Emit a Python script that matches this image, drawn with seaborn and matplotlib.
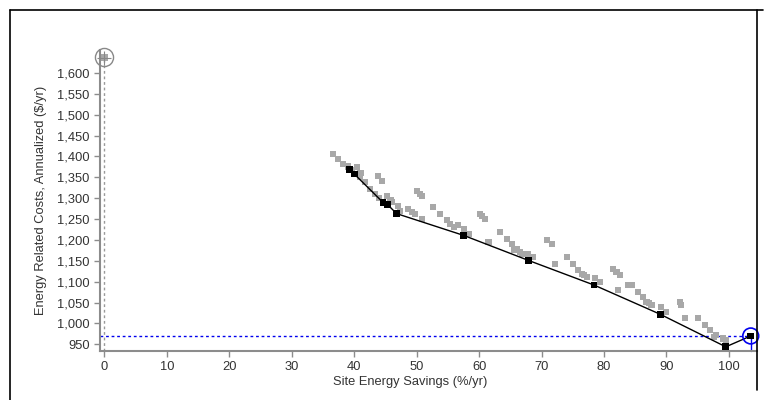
import matplotlib
matplotlib.use("Agg")
import matplotlib.pyplot as plt
import seaborn as sns
import pandas as pd
from matplotlib.ticker import FuncFormatter
from matplotlib.lines import Line2D

# ---- data ----
# all evaluated design points (grey)
grey_x = [36.6, 37.4, 38.2, 39.0, 39.6, 40.4, 41.0, 41.7, 42.5, 43.3, 43.8, 44.4,
          45.2, 46.0, 47.0, 48.6, 49.2, 50.0, 50.5, 50.8, 50.8, 52.6, 53.7, 54.8,
          55.3, 55.9, 57.5, 58.3, 60.1, 60.4, 60.9, 61.5, 63.3, 64.4, 65.2, 66.0,
          66.5, 66.8, 67.9, 68.7, 70.8, 71.6, 72.1, 74.0, 75.1, 75.9, 76.4, 77.2,
          78.5, 79.3, 81.5, 82.0, 82.3, 82.5, 83.9, 84.4, 85.5, 86.3, 86.8, 87.6,
          89.2, 90.0, 92.2, 92.4, 93.0, 95.1, 96.2, 97.0, 98.0, 99.1, 99.6, 45.8,
          47.4, 40.9, 44.0, 49.8, 56.6, 65.6, 76.8, 87.2, 97.6, 0.0]
grey_y = [1406, 1394, 1382, 1376, 1368, 1374, 1360, 1338, 1322, 1310, 1354, 1342,
          1306, 1290, 1282, 1275, 1266, 1318, 1310, 1306, 1251, 1278, 1263, 1247,
          1239, 1231, 1227, 1215, 1263, 1258, 1251, 1195, 1219, 1203, 1191, 1179,
          1171, 1167, 1167, 1159, 1199, 1191, 1143, 1159, 1143, 1127, 1119, 1111,
          1108, 1099, 1131, 1123, 1080, 1115, 1091, 1092, 1076, 1064, 1052, 1044,
          1040, 1028, 1052, 1044, 1012, 1012, 996, 984, 972, 964, 960, 1296,
          1270, 1350, 1300, 1262, 1235, 1175, 1115, 1048, 968, 1637]

# optimal path (black)
opt_x = [39.3, 40.0, 44.6, 45.3, 46.8, 57.5, 67.9, 78.4, 89.0, 99.5, 103.5]
opt_y = [1368, 1358, 1290, 1285, 1263, 1211, 1151, 1092, 1022, 944, 970]

# reference point and selected point
ref_x, ref_y = 0.0, 1637
sel_x, sel_y = 103.5, 970

x_ticks = list(range(0, 101, 10))
y_ticks = list(range(950, 1601, 50))

x_label = "Site Energy Savings (%/yr)"
y_label = "Energy Related Costs, Annualized ($/yr)"

# ---- style ----
sns.set_style("white")
plt.rcParams['font.family'] = ['Liberation Sans', 'DejaVu Sans']

fig = plt.figure(figsize=(7.64, 4.0), dpi=100)
ax = fig.add_axes([100/764, 1-351/400, 657/764, 301/400])

grey_df = pd.DataFrame({"x": grey_x, "y": grey_y})
opt_df = pd.DataFrame({"x": opt_x, "y": opt_y})

GREY = "#a8a8a8"
sns.scatterplot(data=grey_df, x="x", y="y", ax=ax, marker="s", s=19,
                color=GREY, edgecolor="none", linewidth=0, zorder=2, clip_on=False)
sns.lineplot(data=opt_df, x="x", y="y", ax=ax, sort=False, color="black",
             linewidth=1.0, estimator=None, zorder=3)
sns.scatterplot(data=opt_df, x="x", y="y", ax=ax, marker="s", s=24,
                color="black", edgecolor="none", linewidth=0, zorder=4, clip_on=False)

ymin, ymax = 934, 1655
xmin, xmax = -0.72, 104.5
ax.set_xlim(xmin, xmax)
ax.set_ylim(ymin, ymax)

# reference point decorations
ax.plot([ref_x, ref_x], [ymin, ref_y], color="#999999", linestyle=(0, (2, 2)),
        linewidth=1.0, zorder=1)
ax.scatter([ref_x], [ref_y], s=170, facecolor="none", edgecolor="#888888",
           linewidth=1.0, zorder=5, clip_on=False)
ax.scatter([ref_x], [ref_y], s=90, marker="+", color="#888888",
           linewidth=0.8, zorder=5, clip_on=False)

# selected point decorations
ax.plot([xmin, sel_x], [sel_y, sel_y], color="#0000ee", linestyle=(0, (2, 2)),
        linewidth=1.0, zorder=1)
ax.plot([sel_x, sel_x], [ymin, sel_y], color="#0000ee", linewidth=1.0, zorder=1,
        clip_on=False)
ax.scatter([sel_x], [sel_y], s=130, facecolor="none", edgecolor="#0000ee",
           linewidth=1.2, zorder=5, clip_on=False)

# axes styling
for side in ["top", "right"]:
    ax.spines[side].set_visible(False)
for side in ["left", "bottom"]:
    ax.spines[side].set_color("#8c8c8c")
    ax.spines[side].set_linewidth(1.5)

ax.set_xticks(x_ticks)
ax.set_yticks(y_ticks)
ax.yaxis.set_major_formatter(FuncFormatter(lambda v, p: f"{int(v):,}"))
ax.tick_params(axis="both", direction="out", length=4, width=1,
               color="#8c8c8c", labelsize=9.3, labelcolor="#333333", pad=3.5)
ax.tick_params(left=True, bottom=True)

ax.set_xlabel(x_label, fontsize=9.3, color="#333333")
ax.set_ylabel(y_label, fontsize=9.3, color="#333333")
ax.xaxis.set_label_coords((410-100)/657, -(376-351)/301)
ax.yaxis.set_label_coords(-(100-47)/657, 0.5)

# outer frame
for (x0, y0, x1, y1) in [(10, 10, 10, 400), (10, 10, 763, 10), (757, 10, 757, 390)]:
    fig.add_artist(Line2D([x0/764, x1/764], [1-y0/400, 1-y1/400],
                          color="black", linewidth=1.2, transform=fig.transFigure))

fig.savefig("out.png", dpi=100)
